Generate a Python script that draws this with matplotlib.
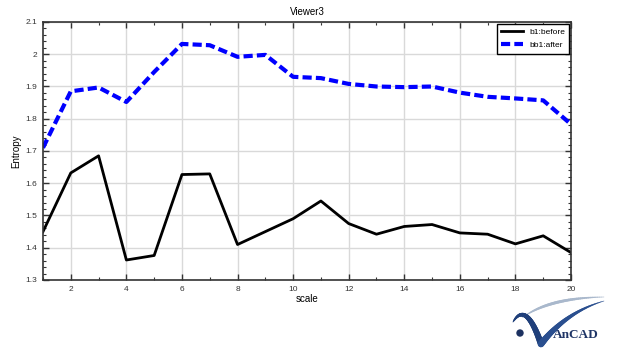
import numpy as np
import matplotlib
matplotlib.use("Agg")
import matplotlib.pyplot as plt
from matplotlib.ticker import MultipleLocator
from matplotlib.lines import Line2D
from matplotlib.patches import Ellipse

plt.rcParams['font.family'] = ['Liberation Sans', 'DejaVu Sans']

scale = list(range(1, 21))
before = [1.450, 1.632, 1.685, 1.362, 1.376, 1.627, 1.629, 1.410, 1.450, 1.490,
          1.545, 1.475, 1.442, 1.466, 1.472, 1.446, 1.442, 1.412, 1.437, 1.385]
after = [1.710, 1.885, 1.897, 1.852, 1.945, 2.032, 2.028, 1.992, 1.998, 1.930,
         1.926, 1.908, 1.900, 1.898, 1.900, 1.881, 1.868, 1.863, 1.857, 1.783]
series_labels = ["b1:before", "bb1:after"]

W, H = 617, 351
fig = plt.figure(figsize=(W / 100, H / 100), dpi=100)
ax = fig.add_axes([43 / W, 1 - 280 / H, (571 - 43) / W, (280 - 22) / H])

ax.plot(scale, before, color="black", lw=2.0, label=series_labels[0])
ax.plot(scale, after, color="#0000ff", lw=3.0, ls=(0, (2.2, 1.0)), label=series_labels[1])

ax.set_xlim(1, 20)
ax.set_ylim(1.3, 2.1)
ax.xaxis.set_major_locator(MultipleLocator(2))
ax.xaxis.set_minor_locator(MultipleLocator(1))
ax.yaxis.set_major_locator(MultipleLocator(0.1))
ax.yaxis.set_minor_locator(MultipleLocator(0.02))
ax.set_yticks(np.arange(1.3, 2.11, 0.1))
ax.set_yticklabels(["1.3", "1.4", "1.5", "1.6", "1.7", "1.8", "1.9", "2", "2.1"])
ax.grid(True, which="major", color="#d9d9d9", lw=1.0)
ax.set_axisbelow(True)
ax.tick_params(which="both", direction="in", top=True, right=True,
               labelsize=6, colors="#333333", pad=4)
ax.tick_params(which="major", length=4, width=1.0)
ax.tick_params(which="minor", length=2, width=0.8)
for s in ax.spines.values():
    s.set_color("#333333")
    s.set_linewidth(1.2)

ax.set_title("Viewer3", fontsize=7, pad=5)
ax.set_xlabel("scale", fontsize=7, labelpad=1)
ax.set_ylabel("Entropy", fontsize=7, labelpad=3)

leg = ax.legend(loc="upper right", fontsize=6, frameon=True, fancybox=False,
                edgecolor="black", framealpha=1, handlelength=2.6,
                borderaxespad=0.2, labelspacing=0.7, borderpad=0.5)
leg.get_frame().set_linewidth(1.0)

# company logo in the lower right corner
def fx(px):
    return px / W

def fy(py):
    return 1 - py / H

def bezier(p0, p1, p2, n=50):
    t = np.linspace(0, 1, n)[:, None]
    pts = (1 - t) ** 2 * np.array(p0) + 2 * (1 - t) * t * np.array(p1) + t ** 2 * np.array(p2)
    return t.ravel(), pts

def stroke(p0, p1, p2, widths, color):
    t, pts = bezier(p0, p1, p2)
    for i in range(len(t) - 1):
        fig.add_artist(Line2D([fx(pts[i, 0]), fx(pts[i + 1, 0])],
                              [fy(pts[i, 1]), fy(pts[i + 1, 1])],
                              color=color, lw=widths(t[i]), solid_capstyle="round"))

# pale upper swoosh
stroke((522, 318), (548, 298), (604, 297), lambda s: 0.3 + 1.8 * np.sin(np.pi * s), "#a9b8cc")
# left arm of the V
stroke((513, 322), (526, 300), (541, 344), lambda s: 0.6 + 4.0 * s ** 0.6, "#1f3f7a")
# right arm of the V
stroke((541, 344), (566, 312), (604, 301), lambda s: 4.5 * (1 - s) + 0.3, "#2a4f8f")
fig.add_artist(Ellipse((fx(520), fy(333)), 6 / W, 6 / H, color="#1c3160"))
fig.text(fx(553), fy(335), "AnCAD", family="Liberation Serif", fontweight="bold",
         fontsize=9.5, color="#1f3566", va="center", ha="left")

fig.savefig("out.png", dpi=100)
